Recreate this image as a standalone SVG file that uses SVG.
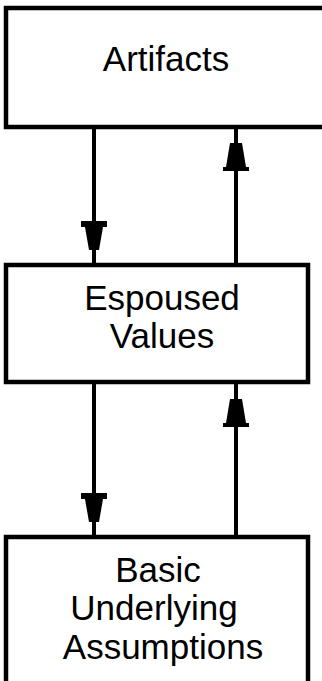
<svg xmlns="http://www.w3.org/2000/svg" width="322" height="681" viewBox="0 0 322 681">
<style>
.box{fill:#fff;stroke:#000;stroke-width:4.5}
.lbl{font-family:"Liberation Sans",Arial,sans-serif;font-size:35px;fill:#000;text-anchor:middle}
.conn{stroke:#000;stroke-width:4;fill:none}
.head{fill:#000}
</style>
<defs>
<polygon id="down" points="-13,0 13,0 13,6 9,6 5,29 -5,29 -9,6 -13,6"/>
<polygon id="up" points="-6,0 6,0 10,24 13,24 13,28 -13,28 -13,24 -10,24"/>
</defs>
<g id="artifacts">
<rect class="box" x="6" y="8" width="330" height="119"/>
<text class="lbl" x="166" y="71">Artifacts</text>
</g>
<g id="espoused">
<rect class="box" x="6" y="265" width="302" height="117"/>
<text class="lbl" x="162" y="310">Espoused</text>
<text class="lbl" x="162" y="348">Values</text>
</g>
<g id="assumptions">
<rect class="box" x="6" y="537" width="302" height="160"/>
<text class="lbl" x="158" y="582">Basic</text>
<text class="lbl" x="154" y="620">Underlying</text>
<text class="lbl" x="163" y="659">Assumptions</text>
</g>
<g id="connectors">
<line class="conn" x1="94" y1="129" x2="94" y2="263"/>
<use href="#down" class="head" x="94" y="221"/>
<line class="conn" x1="236" y1="263" x2="236" y2="129"/>
<use href="#up" class="head" x="236" y="143"/>
<line class="conn" x1="94" y1="384" x2="94" y2="535"/>
<use href="#down" class="head" x="94" y="493"/>
<line class="conn" x1="236" y1="535" x2="236" y2="384"/>
<use href="#up" class="head" x="236" y="399"/>
</g>
</svg>
